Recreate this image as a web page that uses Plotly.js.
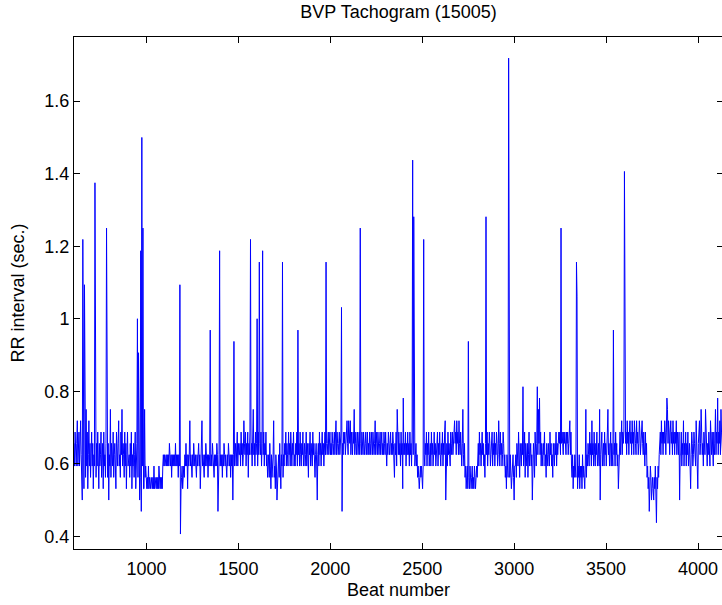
<!DOCTYPE html>
<html>
<head>
<meta charset="utf-8">
<script src="https://cdn.plot.ly/plotly-3.0.1.min.js"></script>
<style>
html,body{margin:0;padding:0;background:#fff;overflow:hidden;}
#chart{width:724px;height:605px;}
</style>
</head>
<body>
<div id="chart"></div>
<script>
// RR intervals, in ticks of 1/32 s, one value every 3 beats
const beatStart = 606;
const beatStep = 3;
const rrSegA = [21,19,22,20,19,21,23,19,20,22, 19,21,23,20,18,16,39,20,17,35, 21,18,24,19,22,17,20,23,19,21, 18,20,22,19,21,17,20,19,44,20, 18,21,19,22,20,17,21,19,20,22, 18,20,21,17,22,19,20,18,21,40, 20,18,21,16,20,19,24,18,21,20, 19,22,18,20,21,19,17,22,20,19, 21,23,19,20,18,22,20,24,19,21, 20,18,22,19,21,17,20,22,19,20];
const rrSegB = [20,18,21,19,22,17,20,19,21,18, 20,22,17,19,21,32,18,29,20,16, 18,38,15,48,19,40,17,17,24,18, 19,18,17,18,17,19,17,18,17,17, 18,17,17,18,17,19,17,18,17,17, 18,17,18,17,19,18,17,18,17,18, 17,19,20,19,20,19,20,20,19,20, 19,20,19,21,20,19,20,18,20,19, 20,19,20,19,21,19,20,19,20,18, 20,19,35,13,17,18,19,17,18,19];
const rrSegC = [18,20,19,21,19,20,17,20,19,20, 23,19,20,19,18,20,19,21,20,19, 20,19,18,20,19,20,21,19,20,17, 19,20,23,19,20,19,18,20,19,21, 20,19,20,18,20,19,20,31,19,20, 19,21,20,19,18,20,19,20,19,21, 20,15,19,20,38,19,20,19,20,18, 20,19,21,20,19,20,19,18,20,19, 21,20,19,20,18,20,19,20,16,20, 30,19,20,21,19,20,22,19,21,20];
const rrSegD = [20,21,19,22,20,21,19,20,23,21, 20,22,19,21,20,22,18,21,20,22, 39,20,21,19,22,24,20,21,19,22, 20,21,32,19,22,20,37,21,20,22, 19,21,38,20,22,19,21,20,22,19, 20,18,19,20,18,21,19,17,20,18, 19,20,23,18,19,17,20,19,16,18, 19,20,18,21,19,17,20,19,37,18, 20,19,21,20,22,19,21,20,19,22, 20,21,19,22,20,19,21,20,22,19];
const rrSegE = [20,19,21,20,22,19,31,20,21,19, 22,20,19,21,20,22,19,20,21,19, 20,22,19,21,20,18,21,20,22,19, 21,20,19,22,20,21,19,18,20,21, 19,16,20,21,19,22,20,21,19,20, 22,20,21,19,21,22,20,37,21,20, 21,22,20,21,22,20,21,20,22,21, 20,21,22,20,21,23,20,22,21,20, 21,22,20,21,22,33,15,21,20,22, 21,22,20,21,22,23,21,20,23,22];
const rrSegF = [21,23,20,22,21,20,22,21,24,20, 21,22,20,21,22,20,21,22,20,40, 21,20,22,21,20,22,21,20,21,22, 20,21,22,20,21,20,22,21,20,22, 21,20,22,21,20,21,23,20,22,21, 20,22,21,20,21,22,20,21,22,20, 21,20,22,21,20,22,21,19,21,20, 22,21,20,21,22,20,21,20,22,21, 20,18,21,20,22,19,24,21,20,22, 20,21,19,22,20,21,17,25,20,21];
const rrSegG = [20,22,19,21,20,22,20,21,19,22, 20,21,19,22,46,20,41,21,19,20, 21,19,20,18,19,18,17,18,19,18, 19,18,17,19,39,20,19,21,20,22, 19,21,20,22,19,20,21,19,22,20, 21,19,20,22,20,21,19,20,21,22, 19,21,20,22,20,19,21,20,22,19, 21,20,22,23,16,20,21,19,22,20, 21,20,19,22,20,21,22,20,21,22, 23,21,22,20,23,21,22,20,23,21];
const rrSegH = [20,22,21,19,21,24,20,19,21,18, 19,17,18,19,17,30,18,17,19,18, 17,18,19,17,18,17,19,18,17,18, 19,18,20,21,19,22,20,21,19,20, 22,20,21,19,20,18,21,41,20,22, 19,21,20,22,21,19,20,21,22,19, 21,20,22,19,21,20,22,21,19,20, 23,21,19,22,20,21,19,20,22,21, 19,20,18,19,17,20,19,18,55,19, 18,20,19,17,18,19,20,18,16,19];
const rrSegI = [19,20,18,21,20,19,22,20,18,21, 20,19,21,20,26,19,20,22,18,21, 20,19,21,18,20,22,19,20,21,19, 20,16,19,21,20,18,22,20,19,21, 26,20,24,21,25,20,22,19,21,20, 19,21,20,22,19,20,18,21,20,19, 21,20,19,22,20,21,19,20,18,21, 20,19,21,20,22,19,21,20,21,22, 21,22,20,40,21,22,21,20,22,21, 22,21,20,22,21,22,20,21,22,23];
const rrSegJ = [20,22,19,18,20,17,19,18,20,19, 18,37,34,17,19,18,20,17,19,18, 19,17,20,18,19,18,17,19,24,18, 20,19,21,20,19,22,20,21,19,23, 20,21,19,22,20,19,21,20,22,19, 20,21,19,24,16,20,21,22,19,20, 21,19,22,20,21,19,20,22,24,20, 21,19,20,22,19,21,20,19,31,20, 21,19,22,20,21,19,20,17,20,21, 22,20,21,23,20,22,21,22,45,21];
const rrSegK = [21,22,20,23,21,22,20,22,23,21, 22,20,23,21,22,20,23,22,21,20, 23,21,22,20,21,23,22,20,21,22, 23,21,20,22,21,19,22,20,21,18, 19,17,18,15,17,19,18,16,17,18, 17,16,18,17,19,17,14,18,17,19, 18,20,21,22,20,23,21,22,20,22, 21,23,22,20,22,25,24,21,23,22, 20,22,23,21,22,20,23,21,22,20, 22,21,23,20,22,21,20,22,16,20];
const rrSegL = [20,22,19,21,20,23,19,21,20,22, 19,21,20,22,19,20,21,19,17,20, 22,21,19,20,22,21,20,19,23,21, 20,17,21,22,23,20,21,24,22,20, 21,19,22,21,20,24,21,22,19,21, 20,22,21,19,23,21,20,22,21,19, 22,20,21,24,20,22,21,25,20,22, 21,23,20,24,22,21,20];

const xTickVals = [1000, 1500, 2000, 2500, 3000, 3500, 4000];
const xTickText = ['1000', '1500', '2000', '2500', '3000', '3500', '4000'];
const yTickVals = [0.4, 0.6, 0.8, 1.0, 1.2, 1.4, 1.6];
const yTickText = ['0.4', '0.6', '0.8', '1', '1.2', '1.4', '1.6'];

const rr32 = [].concat(rrSegA, rrSegB, rrSegC, rrSegD, rrSegE, rrSegF,
                       rrSegG, rrSegH, rrSegI, rrSegJ, rrSegK, rrSegL);
const beats = rr32.map((_, i) => beatStart + i * beatStep);
const rrSec = rr32.map(v => v / 32);

const font = 'Liberation Sans, Arial, Helvetica, sans-serif';
const fs = 18;

const trace = {
  type: 'scatter',
  mode: 'lines',
  x: beats,
  y: rrSec,
  line: {color: '#0000ff', width: 1},
  hoverinfo: 'skip'
};

const axisCommon = {
  showgrid: false,
  zeroline: false,
  showline: true,
  linecolor: '#000000',
  linewidth: 1,
  mirror: 'ticks',
  ticks: 'inside',
  ticklen: 6,
  tickwidth: 1,
  tickcolor: '#000000',
  tickfont: {family: font, size: fs, color: '#000000'},
  automargin: false
};

const layout = {
  width: 724,
  height: 605,
  margin: {l: 74, r: 1, t: 37, b: 56},
  paper_bgcolor: '#ffffff',
  plot_bgcolor: '#ffffff',
  showlegend: false,
  title: {
    text: 'BVP Tachogram (15005)',
    font: {family: font, size: fs, color: '#000000'},
    x: 0.5, xref: 'paper', xanchor: 'center',
    y: 1 - 12 / 605, yref: 'container', yanchor: 'middle'
  },
  xaxis: Object.assign({}, axisCommon, {
    range: [606, 4136],
    tickmode: 'array',
    tickvals: xTickVals,
    ticktext: xTickText,
    ticklabelstandoff: 3,
    title: {text: 'Beat number', font: {family: font, size: fs, color: '#000000'}, standoff: 5}
  }),
  yaxis: Object.assign({}, axisCommon, {
    range: [0.365, 1.777],
    tickmode: 'array',
    tickvals: yTickVals,
    ticktext: yTickText,
    title: {text: 'RR interval (sec.)', font: {family: font, size: fs, color: '#000000'}, standoff: 15}
  })
};

Plotly.newPlot('chart', [trace], layout, {displayModeBar: false, staticPlot: true});
</script>
</body>
</html>
